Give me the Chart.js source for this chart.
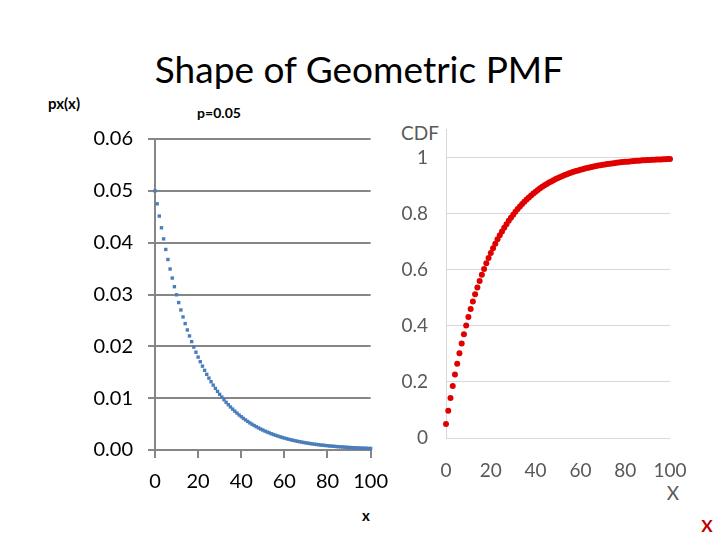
<!DOCTYPE html>
<html>
<head>
<meta charset="utf-8">
<script src="https://cdn.jsdelivr.net/npm/chart.js@4"></script>
<style>
  body { margin: 0; background: #fff; }
  #wrap { position: relative; width: 720px; height: 540px; overflow: hidden; font-family: Lato, "Open Sans", sans-serif; }
  .t { position: absolute; white-space: nowrap; transform: translate(-50%, -50%); }
  canvas { position: absolute; }
</style>
</head>
<body>
<div id="wrap">
  <div class="t" style="left:359px; top:68px; font-size:37px; color:#000;">Shape of Geometric PMF</div>
  <div class="t" style="left:64px; top:103px; font-size:15px; font-weight:bold;">px(x)</div>
  <div class="t" style="left:219px; top:112px; font-size:14px; font-weight:bold;">p=0.05</div>
  <div class="t" style="left:366px; top:515px; font-size:15px; font-weight:bold;">x</div>
  <div class="t" style="left:420px; top:132px; font-size:19px; color:#595959;">CDF</div>
  <div class="t" style="left:673px; top:492px; font-size:19px; color:#595959;">X</div>
  <div class="t" style="left:707px; top:525px; font-size:17px; font-weight:bold; color:#c00000;">X</div>
  <canvas id="pmfChart" width="400" height="420" style="left:0; top:100px;"></canvas>
  <canvas id="cdfChart" width="320" height="420" style="left:400px; top:100px;"></canvas>
</div>
<script>
// x = 0..100
var xValues = [0,1,2,3,4,5,6,7,8,9,10,11,12,13,14,15,16,17,18,19,20,21,22,23,24,25,26,27,28,29,30,
  31,32,33,34,35,36,37,38,39,40,41,42,43,44,45,46,47,48,49,50,51,52,53,54,55,56,57,58,59,60,
  61,62,63,64,65,66,67,68,69,70,71,72,73,74,75,76,77,78,79,80,81,82,83,84,85,86,87,88,89,90,
  91,92,93,94,95,96,97,98,99,100];

// px(x), p = 0.05
var pmfValues = [0.05,0.0475,0.04513,0.04287,0.04073,0.03869,0.03675,0.03492,0.03317,0.03151,
  0.02994,0.02844,0.02702,0.02567,0.02438,0.02316,0.02201,0.02091,0.01986,0.01887,
  0.01792,0.01703,0.01618,0.01537,0.01460,0.01387,0.01318,0.01252,0.01189,0.01130,
  0.01073,0.01020,0.00969,0.00920,0.00874,0.00830,0.00789,0.00749,0.00712,0.00676,
  0.00643,0.00610,0.00580,0.00551,0.00523,0.00497,0.00472,0.00449,0.00426,0.00405,
  0.00385,0.00365,0.00347,0.00330,0.00313,0.00298,0.00283,0.00269,0.00255,0.00242,
  0.00230,0.00219,0.00208,0.00197,0.00188,0.00178,0.00169,0.00161,0.00153,0.00145,
  0.00138,0.00131,0.00124,0.00118,0.00112,0.00107,0.00101,0.00096,0.00092,0.00087,
  0.00083,0.00078,0.00075,0.00071,0.00067,0.00064,0.00061,0.00058,0.00055,0.00052,
  0.00049,0.00047,0.00045,0.00042,0.00040,0.00038,0.00036,0.00035,0.00033,0.00031,0.00030];

// CDF
var cdfValues = [0.05,0.0975,0.1426,0.1855,0.2262,0.2649,0.3017,0.3366,0.3698,0.4013,
  0.4312,0.4596,0.4867,0.5123,0.5367,0.5599,0.5819,0.6028,0.6226,0.6415,
  0.6594,0.6765,0.6926,0.7080,0.7226,0.7365,0.7497,0.7622,0.7741,0.7854,
  0.7961,0.8063,0.8160,0.8252,0.8339,0.8422,0.8501,0.8576,0.8647,0.8715,
  0.8779,0.8840,0.8898,0.8953,0.9006,0.9055,0.9103,0.9147,0.9190,0.9231,
  0.9269,0.9306,0.9340,0.9373,0.9405,0.9434,0.9463,0.9490,0.9515,0.9539,
  0.9562,0.9584,0.9605,0.9625,0.9644,0.9661,0.9678,0.9694,0.9710,0.9724,
  0.9738,0.9751,0.9764,0.9775,0.9787,0.9797,0.9807,0.9817,0.9826,0.9835,
  0.9843,0.9851,0.9858,0.9865,0.9872,0.9879,0.9885,0.9890,0.9896,0.9901,
  0.9906,0.9911,0.9915,0.9919,0.9923,0.9927,0.9931,0.9934,0.9937,0.9941,0.9944];

var pmfTicks = [0, 0.01, 0.02, 0.03, 0.04, 0.05, 0.06];
var cdfTicks = [0, 0.2, 0.4, 0.6, 0.8, 1];
var xTicks = [0, 20, 40, 60, 80, 100];

function points(ys) {
  return xValues.map(function(x, i) { return { x: x, y: ys[i] }; });
}
function fixedTicks(list) {
  return function(scale) { scale.ticks = list.map(function(v) { return { value: v }; }); };
}

Chart.defaults.font.family = 'Lato, "Open Sans", sans-serif';
Chart.defaults.animation = false;

// Grafico izquierdo: PMF
var gris = '#868686';
new Chart(document.getElementById('pmfChart').getContext('2d'), {
  type: 'scatter',
  data: {
    datasets: [{
      data: points(pmfValues),
      backgroundColor: '#4a7ebb',
      borderColor: '#4a7ebb',
      pointStyle: 'rect',
      pointRadius: 2.4,
      borderWidth: 0,
      clip: false
    }]
  },
  options: {
    responsive: false,
    devicePixelRatio: 1,
    layout: { padding: { top: 39, right: 28, left: 0, bottom: 0 } },
    plugins: { legend: { display: false }, tooltip: { enabled: false } },
    scales: {
      x: {
        type: 'linear', min: 0, max: 100,
        afterBuildTicks: fixedTicks(xTicks),
        afterFit: function(s) { s.height = 70; },
        grid: { drawOnChartArea: false, drawTicks: true, tickLength: 8, color: gris, lineWidth: 2 },
        border: { color: gris, width: 2 },
        ticks: { color: '#000', font: { size: 20 }, padding: 12, maxRotation: 0 }
      },
      y: {
        min: 0, max: 0.06,
        afterBuildTicks: fixedTicks(pmfTicks),
        afterFit: function(s) { s.width = 155; },
        grid: { color: gris, lineWidth: 2, tickLength: 7 },
        border: { color: gris, width: 2 },
        ticks: { color: '#000', font: { size: 20 }, padding: 15, callback: function(v) { return v.toFixed(2); } }
      }
    }
  }
});

// Grafico derecho: CDF
new Chart(document.getElementById('cdfChart').getContext('2d'), {
  type: 'scatter',
  data: {
    datasets: [{
      data: points(cdfValues),
      backgroundColor: '#e00000',
      borderColor: '#e00000',
      pointRadius: 3,
      borderWidth: 0,
      clip: false
    }]
  },
  options: {
    responsive: false,
    devicePixelRatio: 1,
    layout: { padding: { top: 23, right: 50, left: 0, bottom: 0 } },
    plugins: { legend: { display: false }, tooltip: { enabled: false } },
    scales: {
      x: {
        type: 'linear', min: 0, max: 100,
        afterBuildTicks: fixedTicks(xTicks),
        afterFit: function(s) { s.height = 82; },
        grid: { display: false },
        border: { display: false },
        ticks: { color: '#595959', font: { size: 19 }, padding: 13, maxRotation: 0 }
      },
      y: {
        min: 0, max: 1.1,
        afterBuildTicks: fixedTicks(cdfTicks),
        afterFit: function(s) { s.width = 46; },
        grid: { color: '#d9d9d9', lineWidth: 1, drawTicks: false },
        border: { color: '#d9d9d9', width: 1 },
        ticks: { color: '#595959', font: { size: 19 }, padding: 18, callback: function(v) { return String(Number(v.toFixed(1))); } }
      }
    }
  }
});
</script>
</body>
</html>
